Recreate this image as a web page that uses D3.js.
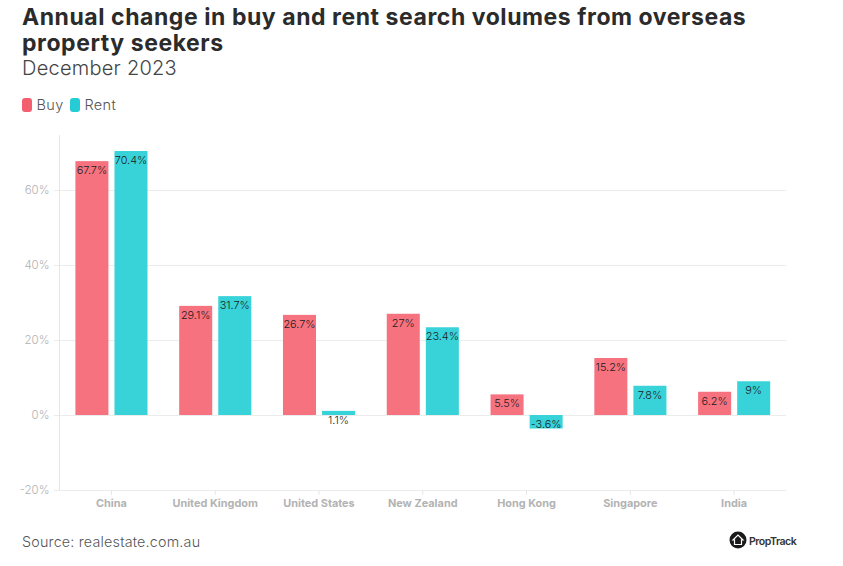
<!DOCTYPE html>
<html>
<head>
<meta charset="utf-8">
<script src="https://cdnjs.cloudflare.com/ajax/libs/d3/7.8.5/d3.min.js"></script>
<style>
    html, body { margin: 0; padding: 0; background: #fff; }
    svg { display: block; font-family: Inter, "Open Sans", sans-serif; }
</style>
</head>
<body>
<svg id="chart" width="843" height="566"></svg>
<script>
const categories = ["China", "United Kingdom", "United States", "New Zealand", "Hong Kong", "Singapore", "India"];
const buyValues = [67.7, 29.1, 26.7, 27, 5.5, 15.2, 6.2];
const rentValues = [70.4, 31.7, 1.1, 23.4, -3.6, 7.8, 9];
const yTicks = [-20, 0, 20, 40, 60];
const seriesNames = ["Buy", "Rent"];
const seriesColors = { Buy: "#f7727f", Rent: "#38d3d9" };
const legendColors = { Buy: "#f45f70", Rent: "#25ccd6" };

const svg = d3.select("#chart");
const plotLeft = 59.5, plotRight = 786, plotTop = 135, plotBottom = 490;

const x = d3.scaleBand().domain(categories).range([plotLeft, plotRight]);
const xSeries = d3.scaleBand().domain(seriesNames).range([15.9, 88]).paddingInner(0.155);
const y = d3.scaleLinear().domain([-20, 74.67]).range([plotBottom, plotTop]);

// title block
const titleLines = ["Annual change in buy and rent search volumes from overseas", "property seekers"];
svg.selectAll("text.title")
    .data(titleLines)
    .enter()
    .append("text")
    .attr("class", "title")
    .attr("x", 22)
    .attr("y", (d, i) => 25 + i * 26)
    .attr("fill", "#2b2b2b")
    .style("font-size", "23px")
    .style("font-weight", 700)
    .style("letter-spacing", "0.56px")
    .text(d => d);

svg.append("text")
    .attr("x", 22)
    .attr("y", 75)
    .attr("fill", "#444")
    .style("font-size", "20px")
    .style("font-weight", 300)
    .style("letter-spacing", "0.25px")
    .text("December 2023");

// legend
const legendX = { Buy: 22, Rent: 70 };
seriesNames.forEach(name => {
    svg.append("rect")
        .attr("x", legendX[name])
        .attr("y", 98)
        .attr("width", 10)
        .attr("height", 14)
        .attr("rx", 3)
        .attr("fill", legendColors[name]);
    svg.append("text")
        .attr("x", legendX[name] + 14.5)
        .attr("y", 110)
        .attr("fill", "#555")
        .style("font-size", "14.5px")
        .style("font-weight", 300)
        .style("letter-spacing", "0.35px")
        .text(name);
});

// grid and axes
svg.selectAll("line.grid")
    .data(yTicks)
    .enter()
    .append("line")
    .attr("class", "grid")
    .attr("x1", 54)
    .attr("x2", plotRight)
    .attr("y1", d => y(d) + 0.5)
    .attr("y2", d => y(d) + 0.5)
    .attr("stroke", "#ececec");

svg.append("line")
    .attr("x1", plotLeft)
    .attr("x2", plotLeft)
    .attr("y1", plotTop)
    .attr("y2", plotBottom)
    .attr("stroke", "#e6e6e6");

svg.selectAll("text.ytick")
    .data(yTicks)
    .enter()
    .append("text")
    .attr("class", "ytick")
    .attr("x", 49.5)
    .attr("y", d => y(d) + 4)
    .attr("text-anchor", "end")
    .attr("fill", "#b0b0b0")
    .style("font-size", "11.5px")
    .style("font-weight", 300)
    .text(d => `${d}%`);

const xTick = svg.selectAll("g.xtick")
    .data(categories)
    .enter()
    .append("g")
    .attr("class", "xtick")
    .attr("transform", d => `translate(${x(d) + x.bandwidth() / 2},0)`);

xTick.append("line")
    .attr("y1", plotBottom)
    .attr("y2", plotBottom + 5)
    .attr("stroke", "#e6e6e6");

xTick.append("text")
    .attr("y", 507)
    .attr("text-anchor", "middle")
    .attr("fill", "#b3b3b3")
    .style("font-size", "10.9px")
    .style("font-weight", 700)
    .text(d => d);

// bars and labels
const rows = categories.map((c, i) => ({ category: c, Buy: buyValues[i], Rent: rentValues[i] }));
const group = svg.selectAll("g.cat")
    .data(rows)
    .enter()
    .append("g")
    .attr("class", "cat")
    .attr("transform", d => `translate(${x(d.category)},0)`);

const cells = group.selectAll("g.cell")
    .data(d => seriesNames.map(name => ({ name, value: d[name] })))
    .enter()
    .append("g")
    .attr("class", "cell");

cells.append("rect")
    .attr("x", d => xSeries(d.name))
    .attr("y", d => y(Math.max(d.value, 0)))
    .attr("width", xSeries.bandwidth())
    .attr("height", d => Math.abs(y(d.value) - y(0)))
    .attr("fill", d => seriesColors[d.name]);

cells.append("text")
    .attr("x", d => xSeries(d.name) + xSeries.bandwidth() / 2)
    .attr("y", d => y(Math.max(d.value, 0)) + 13)
    .attr("text-anchor", "middle")
    .attr("fill", "#1c1c1c")
    .style("font-size", "10.9px")
    .style("font-weight", 300)
    .text(d => `${d.value}%`);

// footer
svg.append("text")
    .attr("x", 22)
    .attr("y", 547)
    .attr("fill", "#555")
    .style("font-size", "14.3px")
    .style("font-weight", 300)
    .style("letter-spacing", "0.2px")
    .text("Source: realestate.com.au");

// PropTrack logo
const logo = svg.append("g").attr("transform", "translate(738,540)");
logo.append("circle").attr("r", 8.5).attr("fill", "#1a1a1a");
logo.append("path")
    .attr("d", "M-5,0 L0,-5 L5,0 L3.5,0 L3.5,4.5 L-3.5,4.5 L-3.5,0 Z")
    .attr("fill", "none")
    .attr("stroke", "#fff")
    .attr("stroke-width", 1.2);
svg.append("text")
    .attr("x", 749)
    .attr("y", 544.5)
    .attr("fill", "#333")
    .style("font-size", "10.6px")
    .style("font-weight", 600)
    .style("letter-spacing", "-0.5px")
    .text("PropTrack");
</script>
</body>
</html>
